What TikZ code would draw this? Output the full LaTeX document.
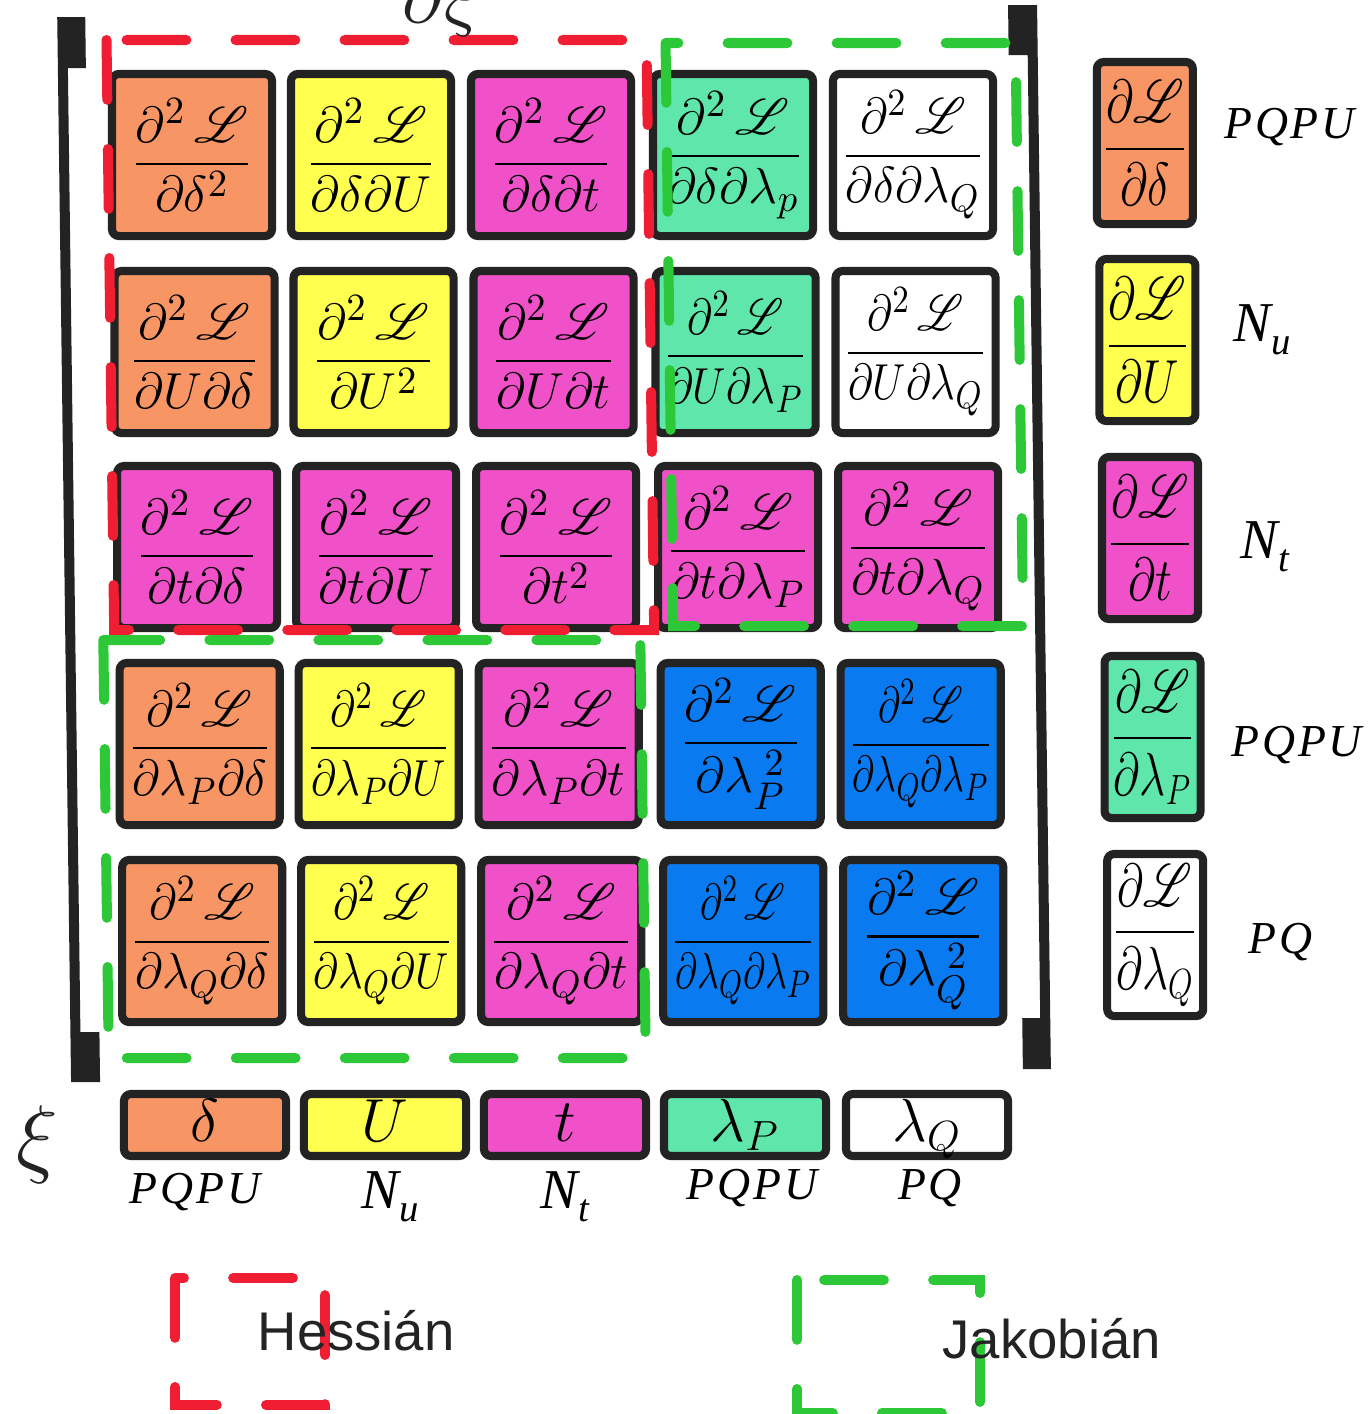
\documentclass[tikz,border=0pt]{standalone}
\usepackage{amsmath}
\usepackage{graphicx}
\usepackage{mathrsfs}
\usepackage{fontspec}
\newfontfamily\lsans{Liberation Sans}
\newfontfamily\lserif[LetterSpace=6]{Liberation Serif}
\definecolor{cor}{RGB}{247,150,100}
\definecolor{cye}{RGB}{255,255,80}
\definecolor{cma}{RGB}{240,80,200}
\definecolor{cgr}{RGB}{95,230,170}
\definecolor{cbl}{RGB}{10,122,240}
\definecolor{hred}{RGB}{240,30,50}
\definecolor{jgreen}{RGB}{45,200,55}
\definecolor{ink}{RGB}{35,35,35}
\newsavebox\fitbox
\newcommand\fitw[2]{\sbox\fitbox{#2}\ifdim\wd\fitbox>#1\relax\resizebox{#1}{\height}{\usebox\fitbox}\else\usebox\fitbox\fi}
\newcommand\hf[1]{\fitw{1.42cm}{$\displaystyle\frac{\partial^2\,\mathscr{L}}{#1}$}}
\newcommand\gf[1]{\fitw{0.84cm}{$\displaystyle\frac{\partial\mathscr{L}}{#1}$}}
\newcommand\labtxt[1]{{\lserif\itshape\fontsize{13}{15}\selectfont #1}}
\newcommand\labN[1]{{\lserif\itshape\fontsize{16}{18}\selectfont N\raisebox{-0.5ex}{\fontsize{11}{12}\selectfont #1}}}
\tikzset{
  cellbox/.style={draw=ink, line width=2.3pt, rounded corners=2pt, minimum width=1.6cm, minimum height=1.62cm, inner sep=0pt, font=\fontsize{15}{18}\selectfont},
  vecbox/.style={cellbox, minimum width=0.96cm, font=\fontsize{18}{22}\selectfont},
  varbox/.style={cellbox, minimum width=1.62cm, minimum height=0.62cm, text height=0.44cm, text depth=0.12cm, font=\fontsize{18}{22}\selectfont},
  hess/.style={hred, line width=2.85pt, line cap=round, dash pattern=on 17pt off 14pt},
  jac/.style={jgreen, line width=2.85pt, line cap=round, dash pattern=on 17pt off 14pt},
  brk/.style={fill=ink, draw=none},
  lab/.style={inner sep=0pt},
}
\begin{document}
\begin{tikzpicture}[x=0.01cm,y=-0.01cm]
\useasboundingbox (0,0) rectangle (1368,1414);
\fill[white] (0,0) rectangle (1368,1414);

\begin{scope}[xslant=-0.013]
% brackets
\fill[brk] (57,17) -- (85,17) -- (85,68) -- (67,68) -- (67,1032) -- (86,1032) -- (86,1082) -- (57,1082) -- cycle;
\fill[brk] (1037,5) -- (1008,5) -- (1008,55) -- (1027,55) -- (1027,1018) -- (1009,1018) -- (1009,1069) -- (1037,1069) -- cycle;

% row 1
\node[cellbox, fill=cor] (c11) at (190,155) {\hf{\partial\delta^2}};
\node[cellbox, fill=cye] (c12) at (369,155) {\hf{\partial\delta\partial U}};
\node[cellbox, fill=cma] (c13) at (549,155) {\hf{\partial\delta\partial t}};
\node[cellbox, fill=cgr] (c14) at (731,155) {\hf{\partial\delta\partial\lambda_p}};
\node[cellbox, fill=white] (c15) at (911,155) {\hf{\partial\delta\partial\lambda_Q}};
% row 2
\node[cellbox, fill=cor] (c21) at (190,352) {\hf{\partial U\partial\delta}};
\node[cellbox, fill=cye] (c22) at (369,352) {\hf{\partial U^2}};
\node[cellbox, fill=cma] (c23) at (549,352) {\hf{\partial U\partial t}};
\node[cellbox, fill=cgr] (c24) at (731,352) {\hf{\partial U\partial\lambda_P}};
\node[cellbox, fill=white] (c25) at (911,352) {\hf{\partial U\partial\lambda_Q}};
% row 3
\node[cellbox, fill=cma] (c31) at (190,547) {\hf{\partial t\partial\delta}};
\node[cellbox, fill=cma] (c32) at (369,547) {\hf{\partial t\partial U}};
\node[cellbox, fill=cma] (c33) at (549,547) {\hf{\partial t^2}};
\node[cellbox, fill=cma] (c34) at (731,547) {\hf{\partial t\partial\lambda_P}};
\node[cellbox, fill=cma] (c35) at (911,547) {\hf{\partial t\partial\lambda_Q}};
% row 4
\node[cellbox, fill=cor] (c41) at (190,744) {\hf{\partial\lambda_P\partial\delta}};
\node[cellbox, fill=cye] (c42) at (369,744) {\hf{\partial\lambda_P\partial U}};
\node[cellbox, fill=cma] (c43) at (549,744) {\hf{\partial\lambda_P\partial t}};
\node[cellbox, fill=cbl] (c44) at (731,744) {\hf{\partial\lambda_P^{\;2}}};
\node[cellbox, fill=cbl] (c45) at (911,744) {\hf{\partial\lambda_Q\partial\lambda_P}};
% row 5
\node[cellbox, fill=cor] (c51) at (190,941) {\hf{\partial\lambda_Q\partial\delta}};
\node[cellbox, fill=cye] (c52) at (369,941) {\hf{\partial\lambda_Q\partial U}};
\node[cellbox, fill=cma] (c53) at (549,941) {\hf{\partial\lambda_Q\partial t}};
\node[cellbox, fill=cbl] (c54) at (731,941) {\hf{\partial\lambda_Q\partial\lambda_P}};
\node[cellbox, fill=cbl] (c55) at (911,941) {\hf{\partial\lambda_Q^{\;2}}};

% gradient column
\node[vecbox, fill=cor] (v1) at (1143,143) {\gf{\partial\delta}};
\node[vecbox, fill=cye] (v2) at (1143,340) {\gf{\partial U}};
\node[vecbox, fill=cma] (v3) at (1143,538) {\gf{\partial t}};
\node[vecbox, fill=cgr] (v4) at (1143,737) {\gf{\partial\lambda_P}};
\node[vecbox, fill=white] (v5) at (1143,935) {\gf{\partial\lambda_Q}};

\node[lab] (l1) at (1288,127) {\labtxt{PQPU}};
\node[lab] (l2) at (1258,330) {\labN{u}};
\node[lab] (l3) at (1258,547) {\labN{t}};
\node[lab] (l4) at (1287,745) {\labtxt{PQPU}};
\node[lab] (l5) at (1268,942) {\labtxt{PQ}};

% Hessian and Jacobian regions
\draw[hess] (106,40) rectangle (646,630);
\draw[jac] (665,43) rectangle (1015,626);
\draw[jac] (95,640) rectangle (632,1058);
\end{scope}

% variable row
\node[varbox, fill=cor] (b1) at (205,1125) {$\delta$};
\node[varbox, fill=cye] (b2) at (385,1125) {$U$};
\node[varbox, fill=cma] (b3) at (565,1125) {$t$};
\node[varbox, fill=cgr] (b4) at (745,1125) {$\lambda_P$};
\node[varbox, fill=white] (b5) at (927,1125) {$\lambda_Q$};

\node[lab] (bl1) at (195,1192) {\labtxt{PQPU}};
\node[lab] (bl2) at (390,1197) {\labN{u}};
\node[lab] (bl3) at (565,1197) {\labN{t}};
\node[lab] (bl4) at (752,1188) {\labtxt{PQPU}};
\node[lab] (bl5) at (930,1188) {\labtxt{PQ}};

% xi symbols
\node[lab, text=ink] (xi) at (37,1145) {\fontsize{35}{40}\selectfont$\xi$};
\node[lab, anchor=base west, text=ink] (dxi) at (402,22) {\fontsize{22}{26}\selectfont$\partial\xi$};

% legend
\draw[hess] (175,1278) rectangle (325,1405);
\node[anchor=base west, inner sep=0pt, text=ink] (hl) at (257,1350) {\lsans\fontsize{15.5}{18}\selectfont Hessián};
\draw[jac] (797,1280) rectangle (980,1413);
\node[anchor=base west, inner sep=0pt, text=ink] (jl) at (942,1358) {\lsans\fontsize{15.5}{18}\selectfont Jakobián};
\end{tikzpicture}
\end{document}
